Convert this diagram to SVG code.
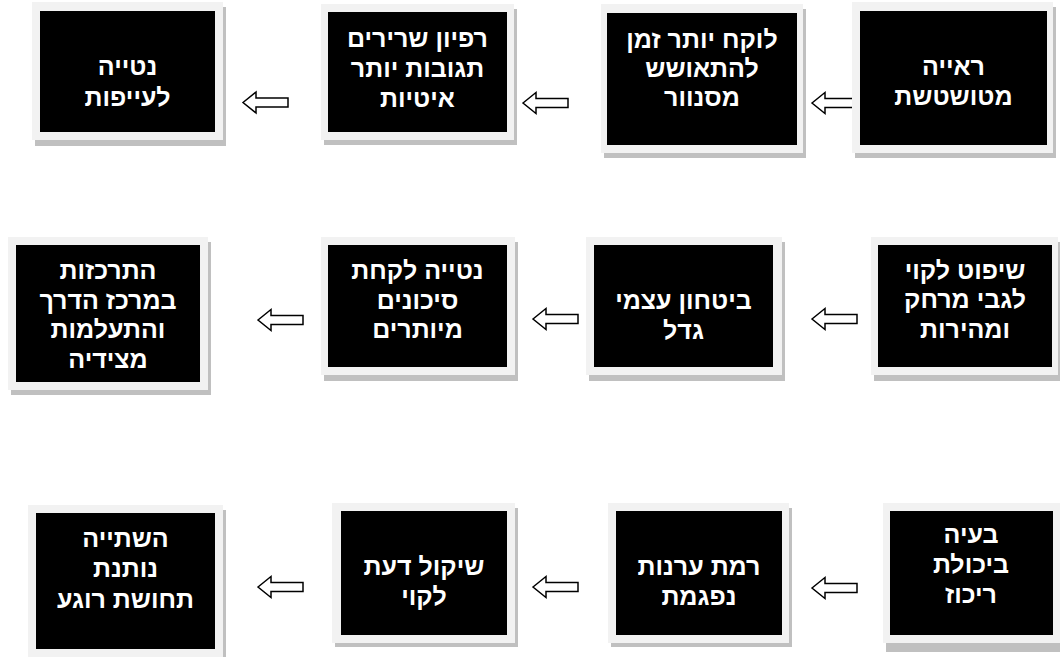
<svg xmlns="http://www.w3.org/2000/svg" xmlns:xlink="http://www.w3.org/1999/xlink" width="1060" height="657" viewBox="0 0 1060 657">
<style>
.sh{fill:#c0c0c0}
.fr{fill:#f2f2f2}
.bx{fill:#000}
.t{fill:#fff;font-family:"Liberation Sans","DejaVu Sans",sans-serif;font-weight:bold;font-size:25px;text-anchor:middle;direction:rtl}
.ar{fill:#fff;stroke:#000;stroke-width:1.5;stroke-linejoin:miter}
</style>
<defs>
<path id="arr" class="ar" d="M0,0 L13,-10.5 L13,-4.5 L45,-4.5 L45,4.5 L13,4.5 L13,10.5 Z"/>
</defs>
<rect width="1060" height="657" fill="#fff"/>
<g id="connectors">
<use xlink:href="#arr" href="#arr" transform="translate(812,103)"/>
<use xlink:href="#arr" href="#arr" transform="translate(523,103)"/>
<use xlink:href="#arr" href="#arr" transform="translate(243,102.5)"/>
<use xlink:href="#arr" href="#arr" transform="translate(812,319)"/>
<use xlink:href="#arr" href="#arr" transform="translate(533,319)"/>
<use xlink:href="#arr" href="#arr" transform="translate(258,320)"/>
<use xlink:href="#arr" href="#arr" transform="translate(812,588)"/>
<use xlink:href="#arr" href="#arr" transform="translate(533,587)"/>
<use xlink:href="#arr" href="#arr" transform="translate(258,587)"/>
</g>
<g id="n1">
<rect class="sh" x="855" y="7" width="201" height="151"/>
<rect class="fr" x="852" y="2" width="201" height="151"/>
<rect class="bx" x="860" y="11" width="187" height="134"/>
<text class="t" x="953.5" y="75">ראייה</text>
<text class="t" x="953.5" y="105">מטושטשת</text>
</g>
<g id="n2">
<rect class="sh" x="604" y="9" width="202" height="149"/>
<rect class="fr" x="601" y="4" width="202" height="149"/>
<rect class="bx" x="607" y="13" width="190" height="132"/>
<text class="t" x="702" y="48">לוקח יותר זמן</text>
<text class="t" x="702" y="77">להתאושש</text>
<text class="t" x="702" y="106">מסנוור</text>
</g>
<g id="n3">
<rect class="sh" x="324" y="9" width="193" height="136"/>
<rect class="fr" x="321" y="4" width="193" height="136"/>
<rect class="bx" x="328" y="12" width="179" height="120"/>
<text class="t" x="417.5" y="47">רפיון שרירים</text>
<text class="t" x="417.5" y="77">תגובות יותר</text>
<text class="t" x="417.5" y="107">איטיות</text>
</g>
<g id="n4">
<rect class="sh" x="35" y="7" width="191" height="139"/>
<rect class="fr" x="32" y="2" width="191" height="138"/>
<rect class="bx" x="40" y="11" width="175" height="121"/>
<text class="t" x="127.5" y="75">נטייה</text>
<text class="t" x="127.5" y="106">לעייפות</text>
</g>
<g id="n5">
<rect class="sh" x="874" y="242" width="186" height="139"/>
<rect class="fr" x="871" y="237" width="187" height="138"/>
<rect class="bx" x="878" y="245" width="174" height="122"/>
<text class="t" x="965" y="279">שיפוט לקוי</text>
<text class="t" x="965" y="308">לגבי מרחק</text>
<text class="t" x="965" y="338">ומהירות</text>
</g>
<g id="n6">
<rect class="sh" x="589" y="242" width="196" height="139"/>
<rect class="fr" x="586" y="237" width="196" height="138"/>
<rect class="bx" x="594" y="245" width="179" height="122"/>
<text class="t" x="683.5" y="309">ביטחון עצמי</text>
<text class="t" x="683.5" y="339">גדל</text>
</g>
<g id="n7">
<rect class="sh" x="324" y="242" width="194" height="139"/>
<rect class="fr" x="321" y="237" width="194" height="138"/>
<rect class="bx" x="328" y="245" width="179" height="122"/>
<text class="t" x="417.5" y="279">נטייה לקחת</text>
<text class="t" x="417.5" y="309">סיכונים</text>
<text class="t" x="417.5" y="338">מיותרים</text>
</g>
<g id="n8">
<rect class="sh" x="11" y="242" width="200" height="153"/>
<rect class="fr" x="8" y="237" width="200" height="153"/>
<rect class="bx" x="16" y="245" width="184" height="137"/>
<text class="t" x="108" y="279">התרכזות</text>
<text class="t" x="108" y="309">במרכז הדרך</text>
<text class="t" x="108" y="338">והתעלמות</text>
<text class="t" x="108" y="368">מצידיה</text>
</g>
<g id="n9">
<rect class="sh" x="886" y="508" width="174" height="144"/>
<rect class="fr" x="883" y="503" width="177" height="140"/>
<rect class="bx" x="890" y="511" width="163" height="124"/>
<text class="t" x="971" y="543">בעיה</text>
<text class="t" x="971" y="573">ביכולת</text>
<text class="t" x="971" y="603">ריכוז</text>
</g>
<g id="n10">
<rect class="sh" x="611" y="508" width="181" height="139"/>
<rect class="fr" x="608" y="503" width="181" height="140"/>
<rect class="bx" x="616" y="511" width="166" height="124"/>
<text class="t" x="699" y="575">רמת ערנות</text>
<text class="t" x="699" y="605">נפגמת</text>
</g>
<g id="n11">
<rect class="sh" x="335" y="508" width="183" height="139"/>
<rect class="fr" x="332" y="503" width="183" height="140"/>
<rect class="bx" x="341" y="511" width="166" height="124"/>
<text class="t" x="424" y="575">שיקול דעת</text>
<text class="t" x="424" y="605">לקוי</text>
</g>
<g id="n12">
<rect class="sh" x="31" y="510" width="195" height="152"/>
<rect class="fr" x="28" y="505" width="195" height="152"/>
<rect class="bx" x="36" y="513" width="179" height="136"/>
<text class="t" x="125.5" y="547">השתייה</text>
<text class="t" x="125.5" y="577">נותנת</text>
<text class="t" x="125.5" y="608">תחושת רוגע</text>
</g>
</svg>
